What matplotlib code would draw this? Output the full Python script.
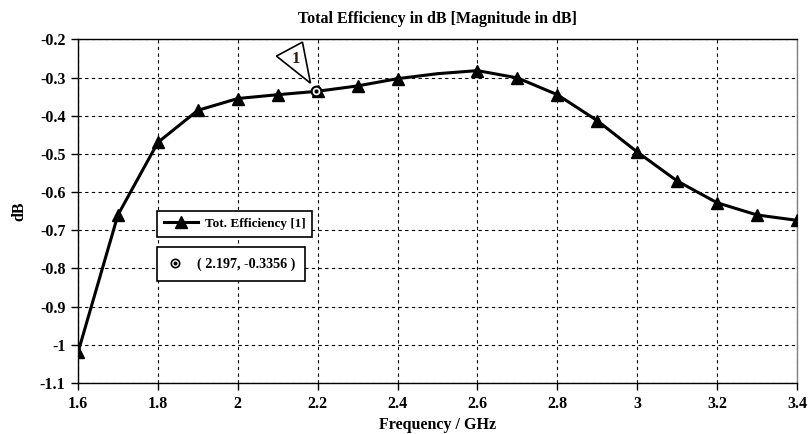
import matplotlib.pyplot as plt
from matplotlib.patches import Polygon
from matplotlib.lines import Line2D
import matplotlib.transforms as mtransforms

# data
freq = [1.6, 1.7, 1.8, 1.9, 2.0, 2.1, 2.2, 2.3, 2.4, 2.5, 2.6, 2.7, 2.8, 2.9, 3.0, 3.1, 3.2, 3.3, 3.4]
eff_db = [-1.02, -0.66, -0.47, -0.386, -0.355, -0.345, -0.336, -0.322, -0.303, -0.29, -0.282,
          -0.301, -0.345, -0.413, -0.495, -0.571, -0.628, -0.66, -0.674]
marker_idx = [0, 1, 2, 3, 4, 5, 6, 7, 8, 10, 11, 12, 13, 14, 15, 16, 17, 18]
mark_x = 2.197
mark_y = -0.3356
x_ticks = [1.6, 1.8, 2.0, 2.2, 2.4, 2.6, 2.8, 3.0, 3.2, 3.4]
x_labels = ['1.6', '1.8', '2', '2.2', '2.4', '2.6', '2.8', '3', '3.2', '3.4']
y_ticks = [-1.1, -1.0, -0.9, -0.8, -0.7, -0.6, -0.5, -0.4, -0.3, -0.2]
y_labels = ['-1.1', '-1', '-0.9', '-0.8', '-0.7', '-0.6', '-0.5', '-0.4', '-0.3', '-0.2']

plt.rcParams['font.family'] = ['Liberation Serif', 'DejaVu Serif']
plt.rcParams['font.weight'] = 'bold'

fig = plt.figure(figsize=(8.08, 4.34), dpi=100)
ax = fig.add_axes([0.0965, 0.1175, 0.8899, 0.7919])

line, = ax.plot(freq, eff_db, color='black', linewidth=2.2, marker='^', markersize=8,
                markevery=marker_idx, label='Tot. Efficiency [1]', zorder=3)

ax.set_xlim(1.6, 3.4)
ax.set_ylim(-1.1, -0.2)
ax.set_xticks(x_ticks)
ax.set_xticklabels(x_labels)
ax.set_yticks(y_ticks)
ax.set_yticklabels(y_labels)
ax.tick_params(direction='out', length=5, width=1, labelsize=11.5, pad=4)
ax.grid(True, color='black', linestyle=(0, (3, 3)), linewidth=0.8)
ax.set_axisbelow(True)
for s in ax.spines.values():
    s.set_linewidth(1.0)
ax.spines['right'].set_color('#808080')

# marker point
ax.plot([mark_x], [mark_y], marker='o', markersize=7, markerfacecolor='white',
        markeredgecolor='black', markeredgewidth=1.5, zorder=4)
ax.plot([mark_x], [mark_y], marker='o', markersize=2, color='black', zorder=5)

# triangle flag "1" above the marker
base = ax.transData.transform((mark_x, mark_y))
tri = [(-40, 35), (-14, 49), (-6, 8)]
poly = Polygon([(base[0] + dx, base[1] + dy) for dx, dy in tri], closed=True,
               transform=mtransforms.IdentityTransform(), facecolor='white',
               edgecolor='black', linewidth=1.2, zorder=6, clip_on=False)
ax.add_patch(poly)
fig.text((base[0] - 21) / fig.bbox.width, (base[1] + 32) / fig.bbox.height, '1',
         fontsize=12, ha='center', va='center', color='#2a1a10', zorder=7)

ax.set_title('Total Efficiency in dB [Magnitude in dB]', fontsize=11.5, fontweight='bold', pad=12)
ax.set_xlabel('Frequency / GHz', fontsize=11.5, fontweight='bold', labelpad=4)
ax.set_ylabel('dB', fontsize=11.5, fontweight='bold')
ax.yaxis.set_label_coords(-0.071, 0.5)

leg = ax.legend(handles=[line], loc='upper left', bbox_to_anchor=(0.11, 0.50),
                fancybox=False, framealpha=1, edgecolor='black', fontsize=9.5,
                handlelength=2.6, handletextpad=0.5, borderpad=0.5, borderaxespad=0)
leg.get_frame().set_linewidth(1.2)
ax.add_artist(leg)

mh = Line2D([], [], marker='o', markersize=6, markerfacecolor='white',
            markeredgecolor='black', markeredgewidth=1.2, linestyle='none')
mh_dot = Line2D([], [], marker='o', markersize=1.8, color='black', linestyle='none')
leg2 = ax.legend(handles=[(mh, mh_dot)], labels=['( 2.197, -0.3356 )'], loc='upper left',
                 bbox_to_anchor=(0.11, 0.395), fancybox=False, framealpha=1,
                 edgecolor='black', fontsize=10.2, handlelength=1.2, handletextpad=0.9,
                 borderpad=0.7, borderaxespad=0)
leg2.get_frame().set_linewidth(1.2)

fig.savefig('out.png', dpi=100)
